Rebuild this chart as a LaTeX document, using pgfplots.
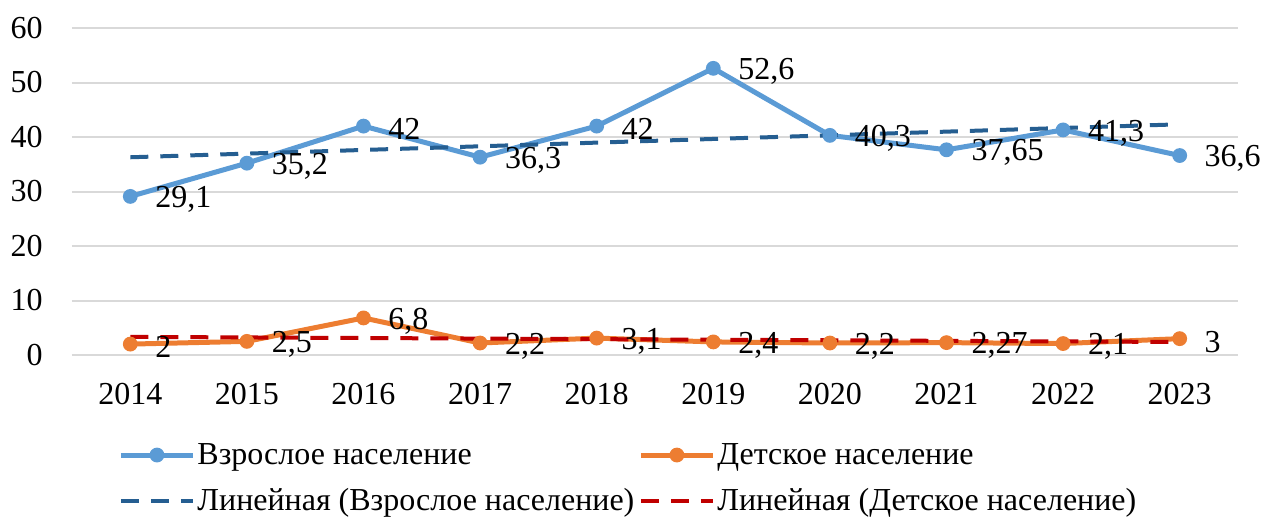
\documentclass[border=0pt]{standalone}
\usepackage{fontspec}
\setmainfont{Liberation Serif}
\usepackage{pgfplots}
\pgfplotsset{compat=1.18}
\definecolor{adult}{HTML}{5B9BD5}
\definecolor{child}{HTML}{ED7D31}
\definecolor{adulttr}{HTML}{255E91}
\definecolor{childtr}{HTML}{C00000}
\definecolor{gridc}{HTML}{D9D9D9}
\begin{document}
\begin{tikzpicture}[font=\fontsize{16}{19}\selectfont]
\useasboundingbox (-36pt,-82pt) rectangle (595.5pt,177.5pt);
\begin{axis}[
  at={(0,0)}, anchor=south west,
  scale only axis, width=583pt, height=163.5pt,
  xmin=-0.5, xmax=9.5, ymin=0, ymax=60,
  xtick={0,...,9},
  xticklabels={2014,2015,2016,2017,2018,2019,2020,2021,2022,2023},
  ytick={0,10,...,60},
  major tick length=0pt,
  axis line style={draw=none},
  ymajorgrids, grid style={gridc, line width=1pt},
  /pgf/number format/assume math mode=true,
  /pgf/number format/use comma,
  yticklabel style={inner sep=0pt, xshift=-14.5pt, anchor=east},
  xticklabel style={inner sep=0pt, yshift=-14pt, anchor=north},
  clip=false,
  nodes near coords,
  every node near coord/.append style={anchor=west, inner sep=0pt, xshift=12pt, yshift=-1.5pt, text=black, font=\fontsize{16}{19}\selectfont},
  legend columns=2,
  legend style={draw=none, fill=none, at={(0.0395,-0.262)}, anchor=north west,
    /tikz/every even column/.append style={column sep=1pt},
    row sep=8.5pt, inner sep=0pt, font=\fontsize{16}{19}\selectfont,
    nodes={inner sep=1pt}},
  legend cell align=left,
  legend image code/.code={\draw[#1, mark repeat=2, mark phase=2] plot coordinates {(0pt,0pt) (18pt,0pt) (36pt,0pt)};},
]
\addplot[adult, line width=2.5pt, mark=*, mark size=3.2pt, mark options={solid, line width=1pt}] coordinates {
(0,29.1) (1,35.2) (2,42) (3,36.3) (4,42) (5,52.6) (6,40.3) (7,37.65) (8,41.3) (9,36.6)};
\addlegendentry{Взрослое население}
\addplot[child, line width=2.5pt, mark=*, mark size=3.2pt, mark options={solid, line width=1pt}] coordinates {
(0,2) (1,2.5) (2,6.8) (3,2.2) (4,3.1) (5,2.4) (6,2.2) (7,2.27) (8,2.1) (9,3)};
\addlegendentry{Детское население}
\addplot[adulttr, line width=2pt, dash pattern=on 9pt off 6pt, nodes near coords={}] coordinates {(0,36.28) (9,42.33)};
\addlegendentry{Линейная (Взрослое население)}
\addplot[childtr, line width=2pt, dash pattern=on 9pt off 6pt, nodes near coords={}] coordinates {(0,3.325) (9,2.389)};
\addlegendentry{Линейная (Детское население)}
\end{axis}
\end{tikzpicture}
\end{document}
